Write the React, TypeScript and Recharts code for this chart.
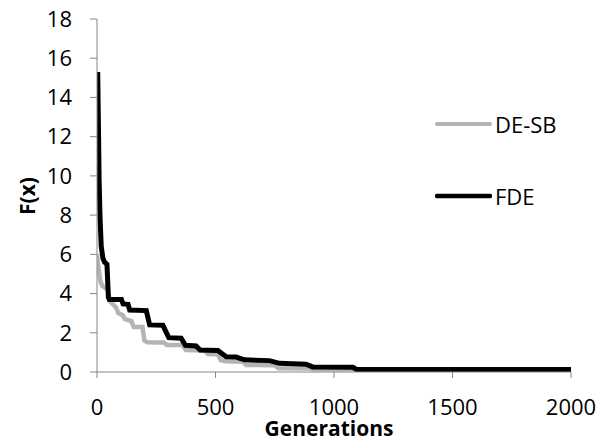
import { LineChart, Line, XAxis, YAxis, Label } from "recharts";

// DE-SB convergence (generation, best F(x))
const GEN_DESB = [0, 4, 15, 22, 45, 55, 80, 90, 108, 118, 145, 155, 192, 200, 212, 282, 295, 360, 375, 455, 468, 510, 522, 545, 615, 630, 750, 765, 895, 910, 2000];
const VAL_DESB = [6.0, 5.5, 4.6, 4.4, 4.2, 3.6, 3.3, 3.0, 2.9, 2.7, 2.6, 2.3, 2.3, 1.6, 1.52, 1.5, 1.38, 1.38, 1.12, 1.1, 0.92, 0.9, 0.6, 0.55, 0.52, 0.36, 0.35, 0.19, 0.18, 0.14, 0.13];

// FDE convergence
const GEN_FDE = [3, 6, 9, 13, 18, 25, 32, 42, 48, 52, 103, 110, 131, 138, 208, 222, 278, 303, 355, 373, 418, 435, 510, 545, 587, 622, 728, 770, 882, 910, 1080, 1095, 2000];
const VAL_FDE = [15.3, 12.6, 9.8, 7.8, 6.4, 5.8, 5.6, 5.5, 3.8, 3.7, 3.7, 3.47, 3.45, 3.16, 3.13, 2.4, 2.38, 1.75, 1.72, 1.36, 1.33, 1.12, 1.1, 0.78, 0.76, 0.62, 0.58, 0.44, 0.4, 0.26, 0.24, 0.13, 0.13];

const X_TICKS = [0, 500, 1000, 1500, 2000];
const Y_TICKS = [0, 2, 4, 6, 8, 10, 12, 14, 16, 18];

const SERIES = [
    { name: "DE-SB", color: "#b4b4b4", width: 4.5 },
    { name: "FDE", color: "#000000", width: 5 },
];

const desb = GEN_DESB.map((g, i) => ({ gen: g, value: VAL_DESB[i] }));
const fde = GEN_FDE.map((g, i) => ({ gen: g, value: VAL_FDE[i] }));

const FONT = "'Open Sans', sans-serif";
const AXIS = "#868686";

export default function App() {
    return (
        <div style={{ position: "absolute", left: 0, top: 0, width: 608, height: 442, background: "#fff", fontFamily: FONT }}>
            <LineChart width={608} height={442} data={fde} margin={{ top: 19, right: 37, bottom: 40, left: 0 }}>
                <XAxis
                    dataKey="gen"
                    type="number"
                    domain={[0, 2000]}
                    ticks={X_TICKS}
                    allowDataOverflow
                    stroke={AXIS}
                    tickSize={6}
                    tickMargin={21}
                    tick={{ fill: "#000", fontSize: 22, fontFamily: FONT }}
                    height={30}
                >
                    <Label
                        content={() => (
                            <text x={329} y={428} textAnchor="middle" dominantBaseline="central" fontFamily={FONT} fontSize={21} fontWeight="bold" fill="#000">
                                Generations
                            </text>
                        )}
                    />
                </XAxis>
                <YAxis
                    type="number"
                    domain={[0, 18]}
                    ticks={Y_TICKS}
                    width={97}
                    stroke={AXIS}
                    tickSize={7}
                    tickMargin={18}
                    tick={{ fill: "#000", fontSize: 22, fontFamily: FONT }}
                >
                    <Label
                        content={() => (
                            <text transform="translate(27,196) rotate(-90)" textAnchor="middle" dominantBaseline="central" fontFamily={FONT} fontSize={21} fontWeight="bold" fill="#000">
                                F(x)
                            </text>
                        )}
                    />
                </YAxis>
                {SERIES.map((s, i) => (
                    <Line
                        key={s.name}
                        data={i === 0 ? desb : fde}
                        dataKey="value"
                        name={s.name}
                        type="linear"
                        stroke={s.color}
                        strokeWidth={s.width}
                        dot={false}
                        isAnimationActive={false}
                    />
                ))}
            </LineChart>
            {SERIES.map((s, i) => (
                <div key={s.name} style={{ position: "absolute", left: 435, top: 124 + i * 72 - 15, height: 30, display: "flex", alignItems: "center" }}>
                    <svg width={57} height={30}>
                        <line x1={2} y1={15} x2={55} y2={15} stroke={s.color} strokeWidth={s.width - 0.5} strokeLinecap="round" />
                    </svg>
                    <span style={{ fontSize: 22, lineHeight: "30px", color: "#000", marginLeft: 3 }}>{s.name}</span>
                </div>
            ))}
        </div>
    );
}
